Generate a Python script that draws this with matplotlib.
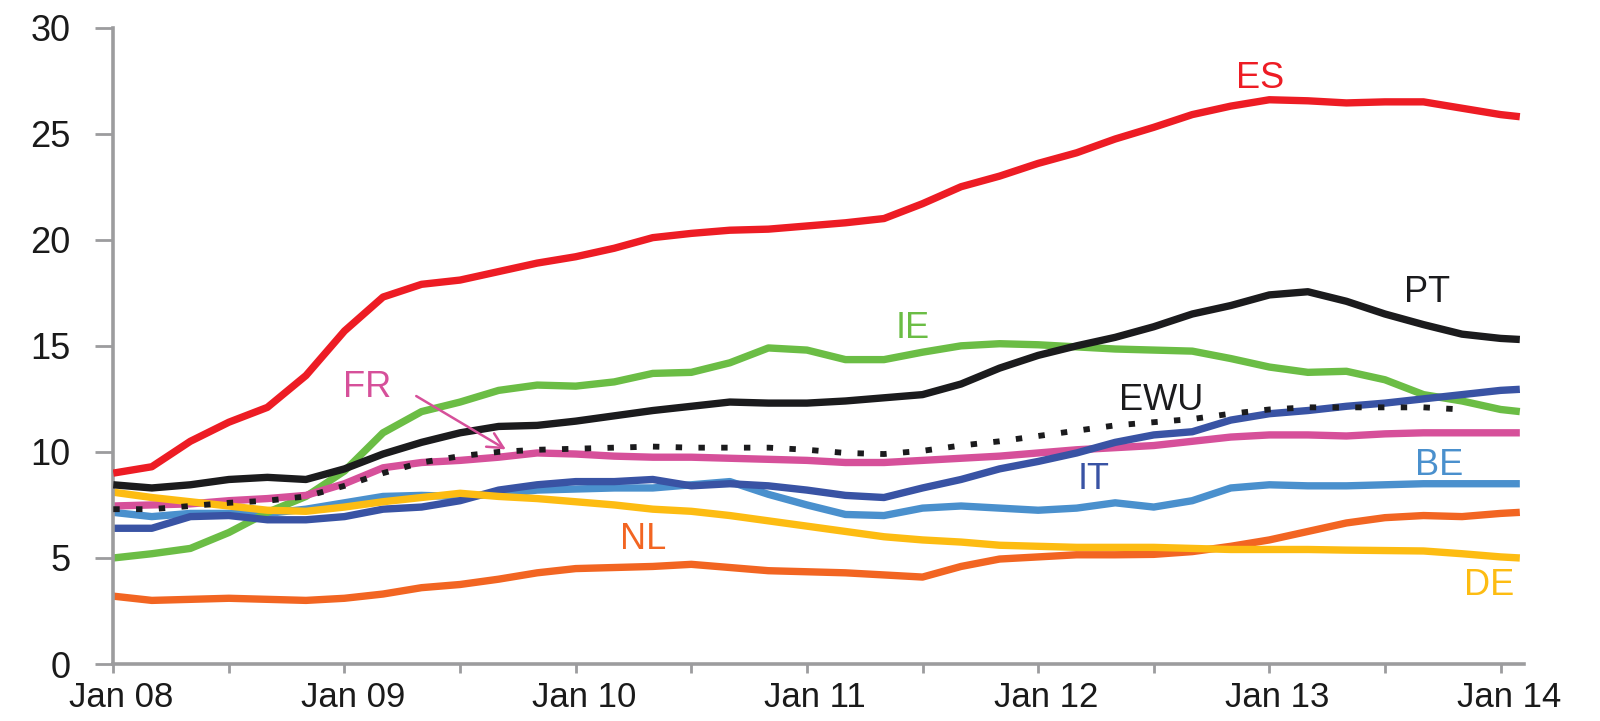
import numpy as np
import matplotlib.pyplot as plt
from matplotlib.transforms import ScaledTranslation

plt.rcParams["font.family"] = ["Liberation Sans", "DejaVu Sans"]

# meses desde jan/2008, de dois em dois meses, o ultimo e fev/2014
meses = list(range(0, 73, 2)) + [73]

es = [9.0, 9.3, 10.5, 11.4, 12.1, 13.6, 15.7, 17.3, 17.9, 18.1, 18.5, 18.9, 19.2,
      19.6, 20.1, 20.3, 20.45, 20.5, 20.65, 20.8, 21.0, 21.7, 22.5, 23.0, 23.6, 24.1,
      24.75, 25.3, 25.9, 26.3, 26.6, 26.55, 26.45, 26.5, 26.5, 26.2, 25.9, 25.8]
pt = [8.45, 8.3, 8.45, 8.7, 8.8, 8.7, 9.2, 9.9, 10.45, 10.9, 11.2, 11.25, 11.45,
      11.7, 11.95, 12.15, 12.35, 12.3, 12.3, 12.4, 12.55, 12.7, 13.2, 13.95, 14.55,
      15.0, 15.4, 15.9, 16.5, 16.9, 17.4, 17.55, 17.1, 16.5, 16.0, 15.55, 15.35, 15.3]
ie = [5.0, 5.2, 5.45, 6.2, 7.15, 7.9, 9.1, 10.9, 11.9, 12.35, 12.9, 13.15, 13.1,
      13.3, 13.7, 13.75, 14.2, 14.9, 14.8, 14.35, 14.35, 14.7, 15.0, 15.1, 15.05,
      14.95, 14.85, 14.8, 14.75, 14.4, 14.0, 13.75, 13.8, 13.4, 12.7, 12.4, 12.0, 11.9]
ewu = [7.3, 7.3, 7.45, 7.6, 7.7, 7.9, 8.4, 9.0, 9.5, 9.8, 10.0, 10.1, 10.15, 10.2,
       10.25, 10.2, 10.2, 10.2, 10.1, 9.95, 9.9, 10.05, 10.3, 10.5, 10.75, 11.0,
       11.25, 11.4, 11.55, 11.8, 12.0, 12.1, 12.1, 12.1, 12.1, 12.0, np.nan, np.nan]
it = [6.4, 6.4, 6.95, 7.0, 6.8, 6.8, 6.95, 7.3, 7.4, 7.7, 8.2, 8.45, 8.6, 8.6, 8.7,
      8.4, 8.5, 8.4, 8.2, 7.95, 7.85, 8.3, 8.7, 9.2, 9.55, 9.95, 10.45, 10.8, 10.95,
      11.5, 11.8, 11.95, 12.15, 12.3, 12.5, 12.7, 12.9, 12.95]
fr = [7.45, 7.5, 7.55, 7.7, 7.8, 7.95, 8.5, 9.25, 9.5, 9.6, 9.75, 9.95, 9.9, 9.8,
      9.75, 9.75, 9.7, 9.65, 9.6, 9.5, 9.5, 9.6, 9.7, 9.8, 9.95, 10.1, 10.2, 10.3,
      10.5, 10.7, 10.8, 10.8, 10.75, 10.85, 10.9, 10.9, 10.9, 10.9]
be = [7.15, 6.95, 7.1, 7.1, 7.1, 7.3, 7.6, 7.9, 7.95, 7.9, 8.0, 8.2, 8.25, 8.3, 8.3,
      8.45, 8.6, 8.0, 7.5, 7.05, 7.0, 7.35, 7.45, 7.35, 7.25, 7.35, 7.6, 7.4, 7.7,
      8.3, 8.45, 8.4, 8.4, 8.45, 8.5, 8.5, 8.5, 8.5]
nl = [3.2, 3.0, 3.05, 3.1, 3.05, 3.0, 3.1, 3.3, 3.6, 3.75, 4.0, 4.3, 4.5, 4.55, 4.6,
      4.7, 4.55, 4.4, 4.35, 4.3, 4.2, 4.1, 4.6, 4.95, 5.05, 5.15, 5.15, 5.17, 5.3,
      5.55, 5.85, 6.25, 6.65, 6.9, 7.0, 6.95, 7.1, 7.15]
de = [8.1, 7.85, 7.65, 7.45, 7.25, 7.2, 7.4, 7.65, 7.85, 8.05, 7.9, 7.8, 7.65, 7.5,
      7.3, 7.2, 7.0, 6.75, 6.5, 6.25, 6.0, 5.85, 5.75, 5.6, 5.55, 5.5, 5.5, 5.5, 5.45,
      5.4, 5.4, 5.4, 5.37, 5.35, 5.33, 5.2, 5.05, 5.0]

anos = ["Jan 08", "Jan 09", "Jan 10", "Jan 11", "Jan 12", "Jan 13", "Jan 14"]

# cores
vermelho = "#ED1C24"
preto = "#1B1B1D"
verde = "#6BBD45"
azul = "#3953A4"
rosa = "#D6509A"
azul_claro = "#4A90CD"
laranja = "#F26522"
amarelo = "#FDBC12"
cinza = "#9C9C9E"

fig = plt.figure(figsize=(16, 7.21), dpi=100)
ax = fig.add_axes([0.0708, 0.079, 0.8815, 0.8827])

lw = 5.3
estilo = dict(lw=lw, solid_joinstyle="round", solid_capstyle="butt")
ax.plot(meses, nl, color=laranja, zorder=2.0, **estilo)
ax.plot(meses, be, color=azul_claro, zorder=2.1, **estilo)
ax.plot(meses, ie, color=verde, zorder=2.2, **estilo)
ax.plot(meses, fr, color=rosa, zorder=2.3, **estilo)
ax.plot(meses, it, color=azul, zorder=2.4, **estilo)
ax.plot(meses, de, color=amarelo, zorder=2.5, **estilo)
ax.plot(meses, pt, color=preto, zorder=2.6, **estilo)
ax.plot(meses, es, color=vermelho, zorder=2.7, **estilo)
ax.plot(meses, ewu, color=preto, lw=4.2, linestyle=(0, (1.1, 2.8)), zorder=2.8)

# rotulos das series
fs = 26
ax.text(59.5, 27.6, "ES", color=vermelho, fontsize=fs, ha="center", va="center")
ax.text(68.2, 17.5, "PT", color=preto, fontsize=fs, ha="center", va="center")
ax.text(41.5, 15.8, "IE", color=verde, fontsize=fs, ha="center", va="center")
ax.text(54.4, 12.4, "EWU", color=preto, fontsize=fs, ha="center", va="center")
ax.text(50.9, 8.7, "IT", color=azul, fontsize=fs, ha="center", va="center")
ax.text(68.8, 9.35, "BE", color=azul_claro, fontsize=fs, ha="center", va="center")
ax.text(27.5, 5.85, "NL", color=laranja, fontsize=fs, ha="center", va="center")
ax.text(71.4, 3.7, "DE", color=amarelo, fontsize=fs, ha="center", va="center")
ax.text(13.2, 13.05, "FR", color=rosa, fontsize=fs, ha="center", va="center")
ax.annotate("", xy=(20.5, 10.05), xytext=(15.6, 12.7),
            arrowprops=dict(arrowstyle="->", color=rosa, lw=1.8, mutation_scale=28))

ax.set_xlim(0, 73.2)
ax.set_ylim(0, 30)
ax.set_yticks(range(0, 31, 5))
ax.set_xticks(range(0, 73, 12))
ax.set_xticklabels(anos)
ax.set_xticks(range(6, 72, 12), minor=True)

for lado in ["top", "right"]:
    ax.spines[lado].set_visible(False)
for lado in ["left", "bottom"]:
    ax.spines[lado].set_color(cinza)
    ax.spines[lado].set_linewidth(2.6)

ax.tick_params(axis="y", length=13, width=2, color=cinza, pad=18,
               labelsize=26, labelcolor="#1a1a1a")
ax.tick_params(axis="x", which="both", length=6.5, width=2, color=cinza, pad=6,
               labelsize=25, labelcolor="#1a1a1a")

# os rotulos do eixo x ficam um pouco a direita das marcas
desloc = ScaledTranslation(6 / 72, 0, fig.dpi_scale_trans)
for rotulo in ax.get_xticklabels():
    rotulo.set_transform(rotulo.get_transform() + desloc)

fig.savefig("out.png", dpi=100)
